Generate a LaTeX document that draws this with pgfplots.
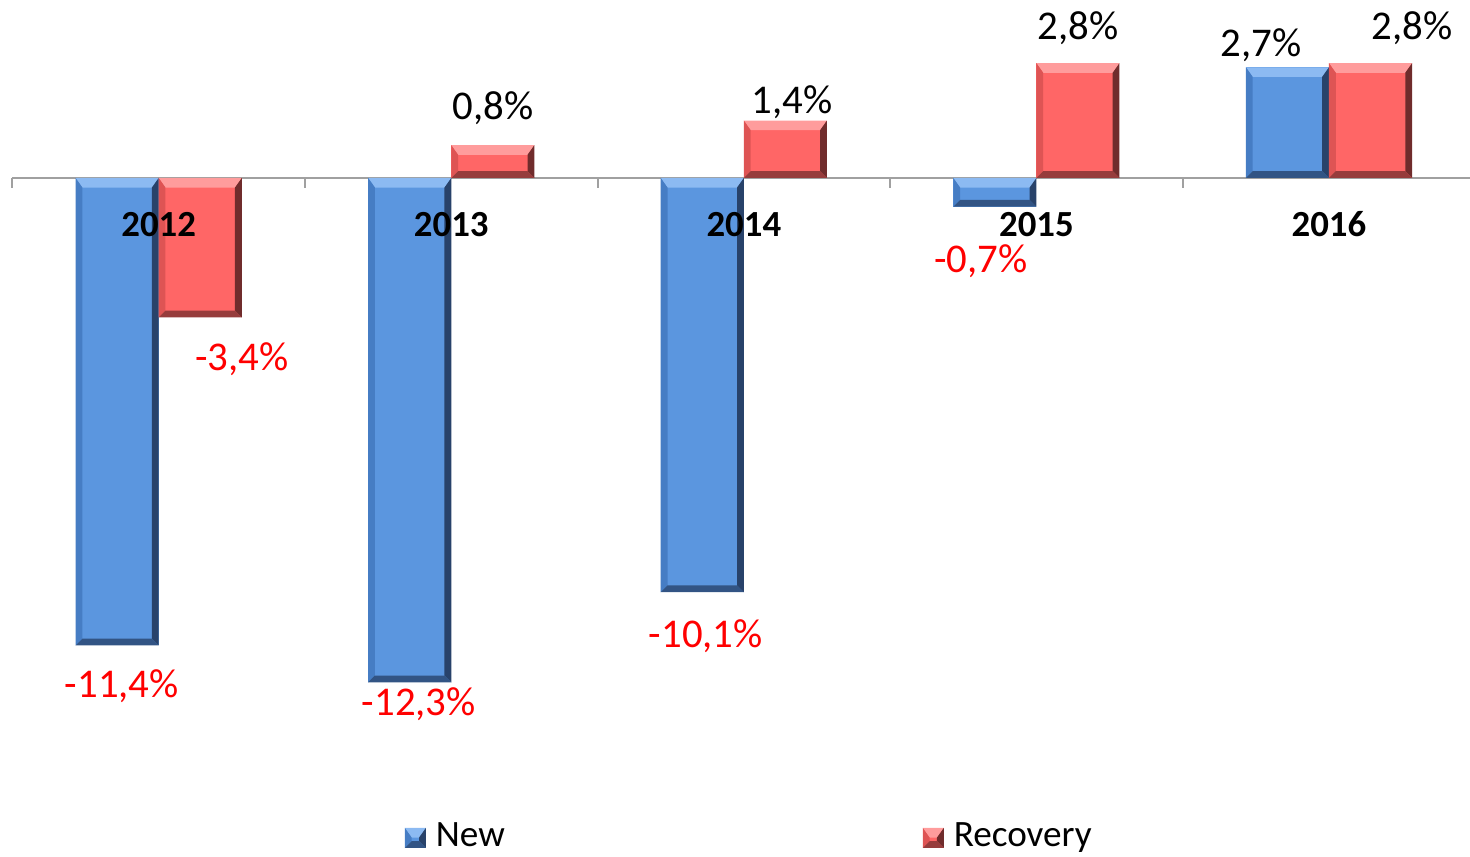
\documentclass[border=0pt]{standalone}
\usepackage{fontspec}
\setmainfont{Carlito}
\usepackage{pgfplots}
\pgfplotsset{compat=1.18}
\definecolor{nblue}{RGB}{91,150,223}
\definecolor{nbluetop}{RGB}{140,186,242}
\definecolor{nblueleft}{RGB}{70,125,196}
\definecolor{nblueright}{RGB}{40,66,106}
\definecolor{nbluebot}{RGB}{50,84,132}
\definecolor{nred}{RGB}{255,102,102}
\definecolor{nredtop}{RGB}{255,156,156}
\definecolor{nredleft}{RGB}{222,84,84}
\definecolor{nredright}{RGB}{112,44,44}
\definecolor{nredbot}{RGB}{150,60,60}
\definecolor{axisgray}{RGB}{160,160,160}
\def\bvB{1.7pt}
\def\bvT{2.4pt}
\tikzset{
  bevel/.style n args={4}{
    path picture={
      \path[path picture={}] (path picture bounding box.south west) coordinate (bsw)
            (path picture bounding box.north east) coordinate (bne)
            (path picture bounding box.north west) coordinate (bnw)
            (path picture bounding box.south east) coordinate (bse);
      \fill[path picture={}, #1] (bnw) -- (bne) -- ([xshift=-\bvB,yshift=-\bvT]bne) -- ([xshift=\bvB,yshift=-\bvT]bnw) -- cycle;
      \fill[path picture={}, #2] (bnw) -- ([xshift=\bvB,yshift=-\bvT]bnw) -- ([xshift=\bvB,yshift=\bvB]bsw) -- (bsw) -- cycle;
      \fill[path picture={}, #3] (bne) -- (bse) -- ([xshift=-\bvB,yshift=\bvB]bse) -- ([xshift=-\bvB,yshift=-\bvT]bne) -- cycle;
      \fill[path picture={}, #4] (bsw) -- ([xshift=\bvB,yshift=\bvB]bsw) -- ([xshift=-\bvB,yshift=\bvB]bse) -- (bse) -- cycle;
    }
  },
  lbl/.style={anchor=base, inner sep=0pt, font=\fontsize{10.2}{12}\selectfont},
  cat/.style={anchor=base, inner sep=0pt, font=\fontsize{9.2}{11}\selectfont\bfseries},
}
\pgfplotsset{
  newbar/.style={fill=nblue, draw=none, bar shift=-0.142,
    bevel={nbluetop}{nblueleft}{nblueright}{nbluebot}},
  recbar/.style={fill=nred, draw=none, bar shift=0.142,
    bevel={nredtop}{nredleft}{nredright}{nredbot}},
}
\begin{document}
\begin{tikzpicture}
\begin{axis}[
  at={(3.1pt,14.25pt)}, anchor=south west,
  scale only axis, width=364.4pt, height=200pt,
  xmin=-0.5, xmax=4.482, ymin=-15.17, ymax=4.341,
  axis x line*=middle, axis y line=none,
  ybar, bar width=0.284,
  xtick={-0.5,0.5,1.5,2.5,3.5}, xticklabels={},
  ytick=\empty,
  major tick length=2.5pt, tick align=outside,
  x axis line style={draw=axisgray, line width=0.5pt},
  xtick style={draw=axisgray, line width=0.5pt},
  clip=false,
  legend columns=2,
  legend image code/.code={%
    \path[#1] (0pt,-2.5pt) rectangle (5.25pt,2.5pt);},
  legend style={
    draw=none, fill=none, inner sep=0pt,
    at={(0.2687,-0.0475)}, anchor=west,
    font=\fontsize{9.3}{11}\selectfont,
    nodes={inner xsep=2.5pt, inner ysep=1pt},
    /tikz/every even column/.append style={column sep=102pt},
  },
]
% New (one bar per plot so that each bar gets its own bevel)
\addplot[newbar] coordinates {(0,-11.4)};
\addplot[newbar, forget plot] coordinates {(1,-12.3)};
\addplot[newbar, forget plot] coordinates {(2,-10.1)};
\addplot[newbar, forget plot] coordinates {(3,-0.7)};
\addplot[newbar, forget plot] coordinates {(4,2.7)};
% Recovery
\addplot[recbar] coordinates {(0,-3.4)};
\addplot[recbar, forget plot] coordinates {(1,0.8)};
\addplot[recbar, forget plot] coordinates {(2,1.4)};
\addplot[recbar, forget plot] coordinates {(3,2.8)};
\addplot[recbar, forget plot] coordinates {(4,2.8)};
\legend{New, Recovery}

\node[cat] at (axis cs:0,-1.415) {2012};
\node[cat] at (axis cs:1,-1.415) {2013};
\node[cat] at (axis cs:2,-1.415) {2014};
\node[cat] at (axis cs:3,-1.415) {2015};
\node[cat] at (axis cs:4,-1.415) {2016};

\node[lbl, text=red] at (axis cs:-0.126,-12.66) {-11,4\%};
\node[lbl, text=red] at (axis cs:0.284,-4.683) {-3,4\%};
\node[lbl, text=red] at (axis cs:0.889,-13.10) {-12,3\%};
\node[lbl] at (axis cs:1.142,1.415) {0,8\%};
\node[lbl, text=red] at (axis cs:1.870,-11.44) {-10,1\%};
\node[lbl] at (axis cs:2.164,1.585) {1,4\%};
\node[lbl, text=red] at (axis cs:2.810,-2.293) {-0,7\%};
\node[lbl] at (axis cs:3.142,3.366) {2,8\%};
\node[lbl] at (axis cs:3.767,2.951) {2,7\%};
\node[lbl] at (axis cs:4.284,3.366) {2,8\%};
\end{axis}
\pgfresetboundingbox
\path[use as bounding box] (0,0) rectangle (367.5pt,214.25pt);
\end{tikzpicture}
\end{document}
